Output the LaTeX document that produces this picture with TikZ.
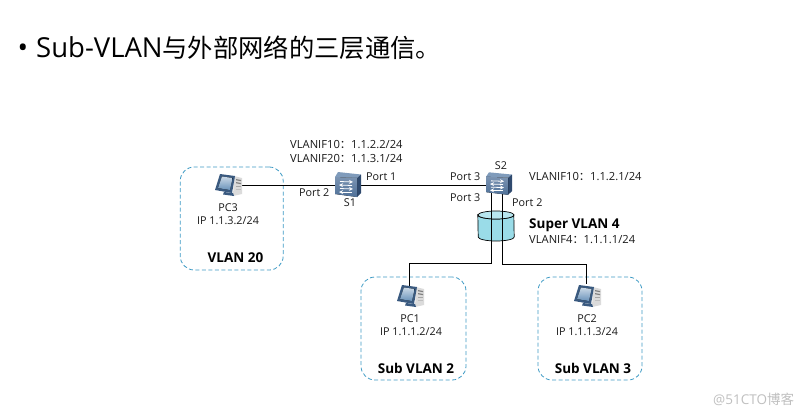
\documentclass[tikz,border=0pt]{standalone}
\usepackage{fontspec}
\setmainfont{Open Sans}
\newfontfamily\cjk{Noto Sans CJK SC}
\definecolor{zone}{HTML}{3E9AC4}
\definecolor{swfront}{HTML}{4F7098}
\definecolor{swtop}{HTML}{7F9BBB}
\definecolor{swside}{HTML}{2F4A6E}
\definecolor{pcblue}{HTML}{4F7FAE}
\definecolor{pcdark}{HTML}{3A5A80}
\definecolor{cyl}{HTML}{9ADCE8}
\tikzset{
 x=1pt,y=-1pt,
 zonebox/.style={draw=zone,line width=0.8pt,rounded corners=14pt,dash pattern=on 4pt off 2.5pt,minimum height=103pt,inner sep=0pt},
 lab/.style={font=\fontsize{10.8}{13}\selectfont,inner sep=0pt,text=black!90},
 labl/.style={lab,anchor=west},
 vif/.style={labl,font=\fontsize{11.2}{13}\selectfont},
 bold/.style={font=\fontsize{13.5}{16}\selectfont\bfseries,inner sep=0pt},
 link/.style={draw=black,line width=0.8pt},
 anchorbox/.style={inner sep=0pt,minimum width=#1,minimum height=20pt},
 pics/pcicon/.style={code={
  \fill[black!14] (6,-9) -- (14,-7) -- (14,9) -- (5,11) -- cycle;
  \fill[black!50] (8,-6) -- (13,-5) -- (13,-3.8) -- (8,-4.8) -- cycle;
  \fill[black!50] (8,-3) -- (13,-2) -- (13,-0.8) -- (8,-1.8) -- cycle;
  \fill[black!35] (8,0.5) rectangle (13,1.7);
  \fill[black!25] (8,4) rectangle (13,5.2);
  \fill[pcdark] (-4,7) -- (5,8) -- (6,11) -- (-5,9.5) -- cycle;
  \fill[pcdark] (-8,-11) -- (7,-9) -- (4,8) -- (-13,5) -- cycle;
  \fill[top color=pcblue!30,bottom color=pcblue!85] (-6,-8.5) -- (4.5,-7) -- (2,5) -- (-10,3) -- cycle;
 }},
 pics/swicon/.style={code={
  \fill[swtop] (-13,-8) -- (-10,-13) -- (13,-10.5) -- (9,-7) -- cycle;
  \fill[swside] (9,-7) -- (13,-10.5) -- (13,8) -- (9,12) -- cycle;
  \fill[top color=swfront!75,bottom color=swfront] (-13,-8) -- (9,-7) -- (9,12) -- (-13,9) -- cycle;
  \draw[white,line width=0.8pt,->,>=stealth] (-8,-3.5) -- (5,-3);
  \draw[white,line width=0.8pt,<-,>=stealth] (-9,0) -- (4,0.5);
  \draw[white,line width=0.8pt,->,>=stealth] (-8,3.5) -- (5,4);
  \draw[white,line width=0.8pt,<-,>=stealth] (-9,7) -- (4,7);
 }},
}
\begin{document}
\begin{tikzpicture}
\useasboundingbox (0,0) rectangle (810,416);
% title
\node[inner sep=0pt,anchor=center] (bullet) at (23,51) {\fontsize{28}{30}\selectfont •};
\node[inner sep=0pt,anchor=west] (title) at (36,48) {\fontsize{27.5}{30}\selectfont Sub-VLAN{\cjk\fontsize{25.3}{30}\selectfont 与外部网络的三层通信。}};
% zones
\node[zonebox,minimum width=103pt] (z20) at (231.7,218.5) {};
\node[zonebox,minimum width=105pt] (z2) at (413.5,328.5) {};
\node[zonebox,minimum width=104pt] (z3) at (590,328.5) {};
% cylinder
\node[inner sep=0pt,minimum width=36pt,minimum height=30pt] (seg) at (496,226) {};
\path[draw=black,line width=0.7pt,fill=cyl] (seg.west |- 0,215) arc[start angle=180,end angle=360,x radius=18pt,y radius=4pt] -- (seg.east |- 0,237) arc[start angle=0,end angle=-180,x radius=18pt,y radius=4pt] -- cycle;
\path[draw=black,line width=0.7pt,fill=cyl!70!white] (496,215) ellipse[x radius=18pt,y radius=4pt];
% devices
\node[anchorbox=28pt] (pc3) at (228,185) {};
\node[anchorbox=26pt] (pc1) at (410,296) {};
\node[anchorbox=26pt] (pc2) at (587,296) {};
\node[anchorbox=26pt] (s1) at (348,185) {};
\node[anchorbox=26pt] (s2) at (499,184) {};
\coordinate (s2a) at (491,193);
\coordinate (s2b) at (502,193);
\coordinate (pc1t) at (409,286);
\coordinate (pc2t) at (586,284);
\coordinate (jl) at (491,263);
\coordinate (jr) at (502,264);
\coordinate (s2w) at (486,185);
% connectors
\draw[link] (pc3.east) -- (s1.west);
\draw[link] (s1.east) -- (s2w);
\draw[link] (s2a) -- (jl) -- (jl -| pc1t) -- (pc1t);
\draw[link] (s2b) -- (jr) -- (jr -| pc2t) -- (pc2t);
% icons
\pic at (pc3) {pcicon};
\pic at (pc1) {pcicon};
\pic at (pc2) {pcicon};
\pic at (s1) {swicon};
\pic[yscale=0.9] at (s2) {swicon};
% labels
\node[vif] (l1) at (290,145) {VLANIF10{\cjk ：}1.1.2.2/24};
\node[vif] (l2) at (290,158.5) {VLANIF20{\cjk ：}1.1.3.1/24};
\node[lab] (n1) at (350,203) {S1};
\node[lab] (n2) at (501,166) {S2};
\node[labl] (p1) at (366,177) {Port 1};
\node[labl] (p2) at (299,193) {Port 2};
\node[labl] (p3) at (450,177) {Port 3};
\node[labl] (p4) at (450,198) {Port 3};
\node[labl] (p5) at (512,203) {Port 2};
\node[vif] (l3) at (529,177) {VLANIF10{\cjk ：}1.1.2.1/24};
\node[bold,anchor=west] (sv) at (529,225.5) {Super VLAN 4};
\node[vif] (l4) at (529,240) {VLANIF4{\cjk ：}1.1.1.1/24};
\node[lab] (t3) at (228,208) {PC3};
\node[lab] (i3) at (228,221) {IP 1.1.3.2/24};
\node[bold] (v20) at (235.5,258) {VLAN 20};
\node[lab] (t1) at (410,319) {PC1};
\node[lab] (i1) at (411,332) {IP 1.1.1.2/24};
\node[bold] (v2) at (416,368) {Sub VLAN 2};
\node[lab] (t2) at (587,319) {PC2};
\node[lab] (i2) at (587,332) {IP 1.1.1.3/24};
\node[bold] (v3) at (593,368) {Sub VLAN 3};
\node[inner sep=0pt,anchor=west,text=black!25] (wm) at (713,399) {\fontsize{13.5}{16}\selectfont @51CTO{\cjk 博客}};
\end{tikzpicture}
\end{document}
